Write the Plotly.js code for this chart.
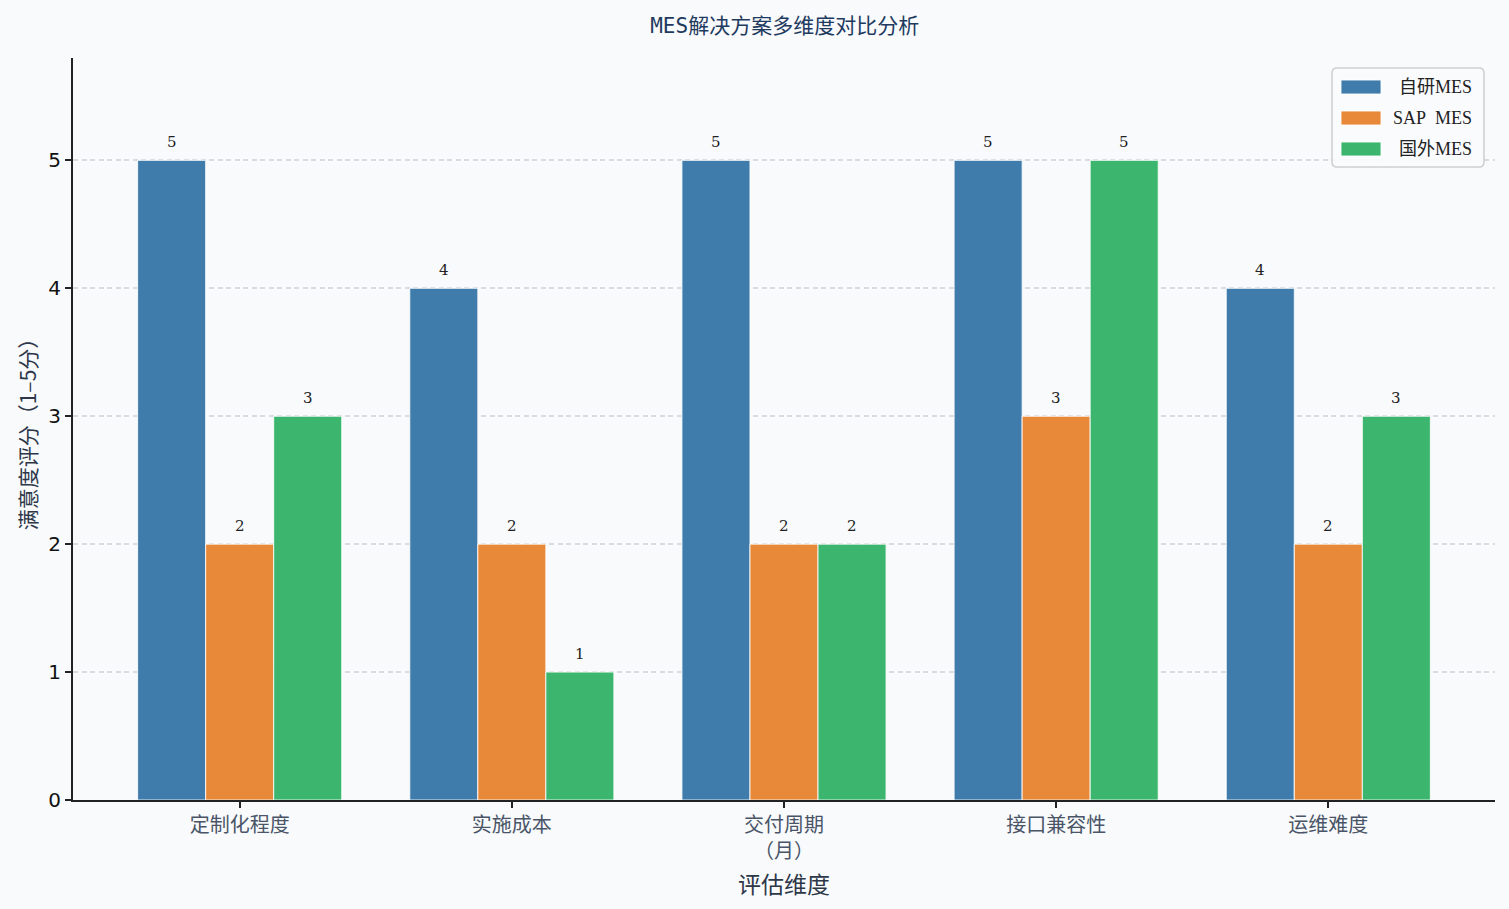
<!DOCTYPE html>
<html>
<head>
<meta charset="utf-8">
<script src="https://cdn.plot.ly/plotly-3.0.1.min.js"></script>
<style>
  html, body { margin: 0; padding: 0; background: #f8fafc; }
  #chart { width: 1509px; height: 909px; }
</style>
</head>
<body>
<div id="chart"></div>
<script>
const categories = ['定制化程度', '实施成本', '交付周期<br>（月）', '接口兼容性', '运维难度'];
const seriesNames = ['自研MES', 'SAP  MES', '国外MES'];
const selfDev = [5, 4, 5, 5, 4];
const sapMes = [2, 2, 2, 3, 2];
const foreignMes = [3, 1, 2, 5, 3];
const seriesColors = ['#3f7cac', '#e8893a', '#3cb66e'];

const allSeries = [selfDev, sapMes, foreignMes];
const barWidth = 0.25;
const catIdx = categories.map((c, i) => i);

// plot area in pixels, used for the hand-drawn legend
const W = 1509, H = 909;
const M = { l: 73, r: 14, t: 58, b: 109 };
const px2x = px => (px - M.l) / (W - M.l - M.r);
const py2y = py => (H - M.b - py) / (H - M.t - M.b);

const data = [];
const annotations = [];
allSeries.forEach((vals, s) => {
    const xs = catIdx.map(i => i + (s - 1) * barWidth);
    data.push({
        type: 'bar',
        x: xs,
        y: vals,
        width: barWidth,
        name: seriesNames[s],
        marker: { color: seriesColors[s], line: { color: 'rgba(255,255,255,0.85)', width: 1 } },
        hoverinfo: 'y',
        showlegend: false
    });
    vals.forEach((v, i) => {
        annotations.push({
            x: xs[i], y: v, xref: 'x', yref: 'y',
            text: String(v), showarrow: false,
            yanchor: 'bottom', yshift: 7,
            font: { family: 'DejaVu Serif, Noto Sans CJK SC', size: 15, color: '#222' }
        });
    });
});

// legend: rounded box, wide swatches, labels
const shapes = [];
const bx0 = 1332, bx1 = 1484, by0 = 68, by1 = 167, rr = 5;
const X = px => px2x(px).toFixed(5), Y = py => py2y(py).toFixed(5);
shapes.push({
    type: 'path', xref: 'paper', yref: 'paper',
    path: `M ${X(bx0 + rr)},${Y(by0)} L ${X(bx1 - rr)},${Y(by0)} Q ${X(bx1)},${Y(by0)} ${X(bx1)},${Y(by0 + rr)} ` +
          `L ${X(bx1)},${Y(by1 - rr)} Q ${X(bx1)},${Y(by1)} ${X(bx1 - rr)},${Y(by1)} ` +
          `L ${X(bx0 + rr)},${Y(by1)} Q ${X(bx0)},${Y(by1)} ${X(bx0)},${Y(by1 - rr)} ` +
          `L ${X(bx0)},${Y(by0 + rr)} Q ${X(bx0)},${Y(by0)} ${X(bx0 + rr)},${Y(by0)} Z`,
    fillcolor: 'rgba(250,251,253,0.9)',
    line: { color: '#cfcfcf', width: 1.5 },
    layer: 'above'
});
seriesNames.forEach((name, s) => {
    const cy = 87 + s * 31;
    shapes.push({
        type: 'rect', xref: 'paper', yref: 'paper',
        x0: px2x(1341), x1: px2x(1381), y0: py2y(cy + 7), y1: py2y(cy - 7),
        fillcolor: seriesColors[s], line: { color: 'rgba(255,255,255,0.85)', width: 1 },
        layer: 'above'
    });
    annotations.push({
        xref: 'paper', yref: 'paper', x: px2x(1474), y: py2y(cy),
        xanchor: 'right', yanchor: 'middle', showarrow: false,
        text: name.replace('  ', '&nbsp;&nbsp;'),
        font: { family: 'Liberation Serif, Noto Sans CJK SC', size: 18, color: '#222' }
    });
});

const layout = {
    width: W,
    height: H,
    paper_bgcolor: '#f8fafc',
    plot_bgcolor: '#f8fafc',
    margin: M,
    barmode: 'overlay',
    showlegend: false,
    title: {
        text: 'MES解决方案多维度对比分析',
        x: 0.52, xanchor: 'center', y: 0.972, yanchor: 'middle',
        font: { family: 'DejaVu Sans Mono, Noto Sans CJK SC', size: 21, color: '#1f3a5f' }
    },
    xaxis: {
        range: [-0.6125, 4.6125],
        tickvals: catIdx,
        ticktext: categories,
        showgrid: false,
        zeroline: false,
        showline: true, linecolor: '#222', linewidth: 1.8,
        ticks: 'outside', ticklen: 6, tickcolor: '#222', tickwidth: 1.5,
        tickfont: { family: 'Noto Sans CJK SC', size: 20, color: '#4a5568' },
        title: { text: '评估维度', standoff: 14, font: { family: 'Noto Sans CJK SC', size: 23, color: '#2d3748' } }
    },
    yaxis: {
        range: [0, 5.8],
        tickvals: [0, 1, 2, 3, 4, 5],
        showgrid: true, gridcolor: '#d8dce1', griddash: '5px,3.5px', gridwidth: 1.5,
        zeroline: false,
        showline: true, linecolor: '#222', linewidth: 1.8,
        ticks: 'outside', ticklen: 6, tickcolor: '#222', tickwidth: 1.5,
        tickfont: { family: 'DejaVu Sans', size: 20, color: '#111' },
        title: { text: '满意度评分（1–5分）', standoff: 6, font: { family: 'Noto Sans CJK SC', size: 21, color: '#2d3748' } }
    },
    shapes: shapes,
    annotations: annotations
};

Plotly.newPlot('chart', data, layout, { displayModeBar: false });
</script>
</body>
</html>
